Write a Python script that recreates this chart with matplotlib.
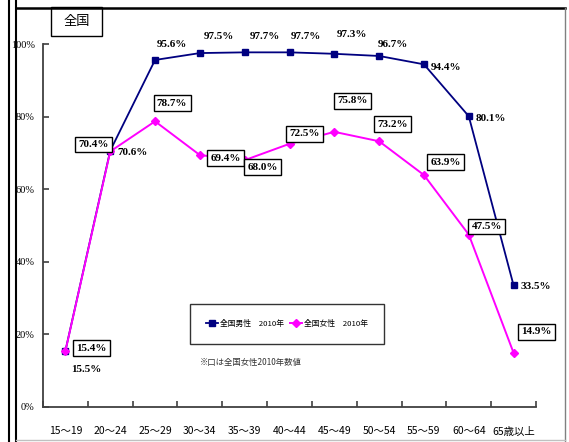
import matplotlib
matplotlib.use('Agg')
import matplotlib.pyplot as plt
from matplotlib.lines import Line2D
from matplotlib.patches import Rectangle

plt.rcParams['font.family'] = ['Noto Sans CJK JP', 'DejaVu Sans']

# データ
年齢 = ['15～19', '20～24', '25～29', '30～34', '35～39', '40～44',
      '45～49', '50～54', '55～59', '60～64', '65歳以上']
男性 = [15.5, 70.6, 95.6, 97.5, 97.7, 97.7, 97.3, 96.7, 94.4, 80.1, 33.5]
女性 = [15.4, 70.4, 78.7, 69.4, 68.0, 72.5, 75.8, 73.2, 63.9, 47.5, 14.9]
y目盛 = [0, 20, 40, 60, 80, 100]

# ラベル位置（点からのずれ, px）
男性ずれ = [(21, -19), (22, -2), (17, 15), (19, 17), (20, 16), (16, 16),
         (18, 19), (14, 11), (22, -3), (22, -2), (22, -1)]
女性ずれ = [(26, 3), (-17, 7), (17, 18), (26, -3), (18, -7), (15, 10),
         (18, 31), (13, 17), (22, 13), (18, 8), (23, 21)]

W, H = 569, 442
fig = plt.figure(figsize=(W / 100, H / 100), dpi=100)

def px(x0, y0, x1, y1):
    return [x0 / W, 1 - y1 / H, (x1 - x0) / W, (y1 - y0) / H]

ax = fig.add_axes(px(43, 44, 536, 407))
x = list(range(len(年齢)))

ax.plot(x, 男性, color='#000080', lw=1.3, marker='s', ms=5, label='全国男性　2010年', zorder=3)
ax.plot(x, 女性, color='#FF00FF', lw=1.4, marker='D', ms=4.5, label='全国女性　2010年', zorder=4)

num_font = ['DejaVu Sans Condensed', 'Liberation Serif']
for i in x:
    ax.annotate('{:.1f}%'.format(男性[i]), (i, 男性[i]), xytext=男性ずれ[i],
                textcoords='offset pixels', ha='center', va='center',
                fontsize=8, fontweight='bold', family=num_font, zorder=6)
    ax.annotate('{:.1f}%'.format(女性[i]), (i, 女性[i]), xytext=女性ずれ[i],
                textcoords='offset pixels', ha='center', va='center',
                fontsize=8, fontweight='bold', family=num_font, zorder=6,
                bbox=dict(boxstyle='square,pad=0.3', fc='white', ec='black', lw=1))

ax.set_xlim(-0.5, len(年齢) - 0.5)
ax.set_ylim(0, 100)
ax.set_xticks([i - 0.5 for i in range(len(年齢) + 1)])
ax.set_xticklabels([])
ax.set_xticks(x, minor=True)
ax.set_xticklabels(年齢, minor=True, fontsize=7.5, family=['Noto Sans CJK JP'])
ax.tick_params(axis='x', which='major', direction='in', length=4, width=1.2, color='#404040')
ax.tick_params(axis='x', which='minor', length=0, pad=14)
ax.set_yticks(y目盛)
ax.set_yticklabels(['{}%'.format(v) for v in y目盛], fontsize=7.5, family=['Liberation Serif'])
ax.tick_params(axis='y', direction='in', length=4, width=1.2, color='#404040', pad=6)
for s in ['top', 'right']:
    ax.spines[s].set_visible(False)
for s in ['left', 'bottom']:
    ax.spines[s].set_color('#404040')
    ax.spines[s].set_linewidth(1.3)

leg = ax.legend(loc='center', bbox_to_anchor=((287 - 43) / 493, (407 - 324) / 363),
                ncol=2, fontsize=5.6, frameon=True, fancybox=False, edgecolor='black',
                borderpad=2.0, handlelength=1.5, handletextpad=0.3, columnspacing=0.8)
leg.get_frame().set_linewidth(1.0)

fig.text(200 / W, 1 - 362 / H, '※口は全国女性2010年数値', fontsize=6, color='#333333',
         ha='left', va='center')

# 全国ボックス
fig.add_artist(Rectangle((51 / W, 1 - 36 / H), 51 / W, 29 / H, transform=fig.transFigure,
                         fc='white', ec='black', lw=1))
fig.text(77 / W, 1 - 21 / H, '全国', fontsize=9.5, ha='center', va='center')

# 外枠
fig.add_artist(Line2D([8.5 / W, 8.5 / W], [0, 1], color='black', lw=1.5))
fig.add_artist(Line2D([15.5 / W, 15.5 / W], [0, 1], color='black', lw=1.5))
fig.add_artist(Line2D([15.5 / W, 565 / W], [1 - 7.5 / H, 1 - 7.5 / H], color='black', lw=1.8))
fig.add_artist(Line2D([565 / W, 565 / W], [0, 1 - 7.5 / H], color='#808080', lw=1))
fig.add_artist(Line2D([15.5 / W, 565 / W], [1 - 439.5 / H, 1 - 439.5 / H], color='#c0c0c0', lw=1))

fig.savefig('out.png', dpi=100)
